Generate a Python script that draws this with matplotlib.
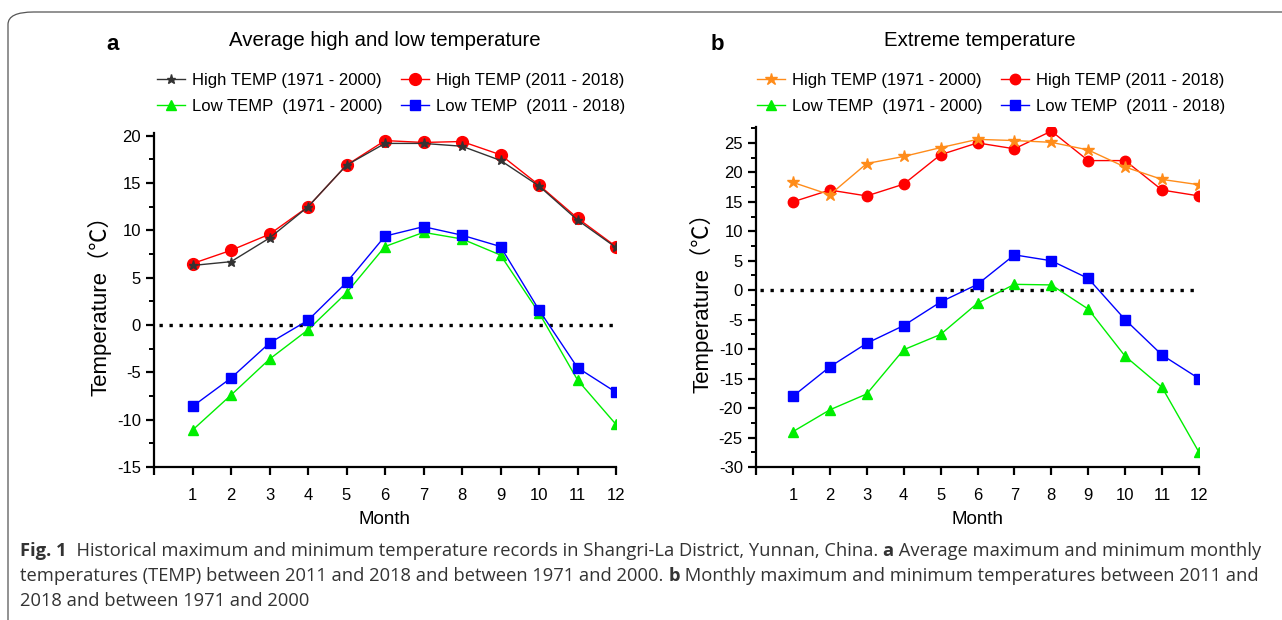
import matplotlib
matplotlib.use("Agg")
import matplotlib.pyplot as plt
from matplotlib.patches import FancyBboxPatch
from matplotlib.ticker import MultipleLocator

months = list(range(1, 13))

# a: average high / low temperature
avg_high_old = [6.3, 6.7, 9.2, 12.5, 16.9, 19.2, 19.2, 18.9, 17.4, 14.7, 11.1, 8.2]
avg_high_new = [6.5, 7.9, 9.6, 12.5, 16.9, 19.5, 19.3, 19.4, 18.0, 14.8, 11.3, 8.3]
avg_low_old = [-11.1, -7.4, -3.6, -0.5, 3.4, 8.3, 9.8, 9.1, 7.4, 1.3, -5.8, -10.5]
avg_low_new = [-8.6, -5.6, -1.9, 0.5, 4.5, 9.4, 10.4, 9.5, 8.3, 1.6, -4.5, -7.1]

# b: extreme temperature
ext_high_old = [18.3, 16.2, 21.5, 22.7, 24.2, 25.6, 25.4, 25.1, 23.8, 20.9, 18.8, 17.9]
ext_high_new = [15, 17, 16, 18, 23, 25, 24, 27, 22, 22, 17, 16]
ext_low_old = [-24.0, -20.3, -17.6, -10.1, -7.5, -2.2, 1.0, 0.9, -3.2, -11.2, -16.5, -27.5]
ext_low_new = [-18, -13, -9, -6, -2, 1, 6, 5, 2, -5, -11, -15]

lbl_high_old = "High TEMP (1971 - 2000)"
lbl_high_new = "High TEMP (2011 - 2018)"
lbl_low_old = "Low TEMP  (1971 - 2000)"
lbl_low_new = "Low TEMP  (2011 - 2018)"

plt.rcParams['font.family'] = ['Liberation Sans', 'DejaVu Sans']
plt.rcParams['axes.unicode_minus'] = False

W, H = 1282, 620
fig = plt.figure(figsize=(W / 100, H / 100), dpi=100)

# rounded frame that runs off the right and bottom edges
frame = FancyBboxPatch((8 / W, -0.2), 1.2, 0.2 + (H - 12) / H,
                       boxstyle="round,pad=0,rounding_size=0.02",
                       transform=fig.transFigure, fill=False,
                       edgecolor="#555555", linewidth=0.9, clip_on=False)
fig.patches.append(frame)


def style_axes(ax, ylim):
    ax.set_xlim(0, 12)
    ax.set_ylim(*ylim)
    for s in ["top", "right"]:
        ax.spines[s].set_visible(False)
    for s in ["left", "bottom"]:
        ax.spines[s].set_linewidth(1.6)
        ax.spines[s].set_color("black")
    ax.set_xticks(range(0, 13))
    ax.set_xticklabels([""] + [str(m) for m in months])
    ax.yaxis.set_major_locator(MultipleLocator(5))
    ax.yaxis.set_minor_locator(MultipleLocator(2.5))
    ax.tick_params(axis="both", which="major", direction="out", length=6,
                   width=1.6, labelsize=12, colors="black")
    ax.tick_params(axis="x", pad=9)
    ax.tick_params(axis="y", which="minor", direction="out", length=3.5, width=1.4)
    ax.set_xlabel("Month", fontsize=13.5, labelpad=6)
    ax.set_ylabel("Temperature（℃）", fontsize=16,
                  family=["Liberation Sans", "Noto Sans CJK SC", "DejaVu Sans"],
                  labelpad=4)
    ax.axhline(0, xmin=0.01, xmax=1, color="black", linestyle=(0, (1, 2)),
               linewidth=2.4, zorder=1)


# panel a
ax1 = fig.add_axes([154 / W, (H - 467) / H, 462 / W, 334 / H])
ax1.plot(months, avg_high_old, color="#333333", marker="*", markersize=6.5,
         linewidth=1, label=lbl_high_old, zorder=4)
ax1.plot(months, avg_low_old, color="#00ee00", marker="^", markersize=6.5,
         linewidth=1, label=lbl_low_old, zorder=3)
ax1.plot(months, avg_high_new, color="#ff0000", marker="o", markersize=8.5,
         linewidth=1, label=lbl_high_new, zorder=3)
ax1.plot(months, avg_low_new, color="#0000ff", marker="s", markersize=7.5,
         linewidth=1, label=lbl_low_new, zorder=4)
style_axes(ax1, (-15, 20.3))

# panel b
ax2 = fig.add_axes([756 / W, (H - 467) / H, 443 / W, 340 / H])
ax2.plot(months, ext_high_old, color="#ff8c1a", marker="*", markersize=9,
         linewidth=1, label=lbl_high_old, zorder=4)
ax2.plot(months, ext_low_old, color="#00ee00", marker="^", markersize=7.5,
         linewidth=1, label=lbl_low_old, zorder=3)
ax2.plot(months, ext_high_new, color="#ff0000", marker="o", markersize=7.5,
         linewidth=1, label=lbl_high_new, zorder=3)
ax2.plot(months, ext_low_new, color="#0000ff", marker="s", markersize=6.5,
         linewidth=1, label=lbl_low_new, zorder=4)
style_axes(ax2, (-30, 27.7))

for ax, x0 in [(ax1, 150), (ax2, 750)]:
    ax.legend(loc="upper left", bbox_to_anchor=(x0 / W, 1 - 66 / H),
              bbox_transform=fig.transFigure, ncol=2, frameon=False,
              fontsize=12, handlelength=1.7, handletextpad=0.4,
              columnspacing=1.1, labelspacing=0.7, borderaxespad=0)

fig.text(385 / W, 1 - 40 / H, "Average high and low temperature", fontsize=14.7,
         ha="center", va="center")
fig.text(980 / W, 1 - 40 / H, "Extreme temperature", fontsize=14.7,
         ha="center", va="center")
fig.text(113 / W, 1 - 45 / H, "a", fontsize=16, fontweight="bold",
         ha="center", va="center")
fig.text(717 / W, 1 - 45 / H, "b", fontsize=16, fontweight="bold",
         ha="center", va="center")

# caption, written piece by piece so the bold parts sit inline
caption = [
    [("Fig. 1", True), ("  Historical maximum and minimum temperature records in Shangri-La District, Yunnan, China. ", False),
     ("a", True), (" Average maximum and minimum monthly", False)],
    [("temperatures (TEMP) between 2011 and 2018 and between 1971 and 2000. ", False), ("b", True),
     (" Monthly maximum and minimum temperatures between 2011 and", False)],
    [("2018 and between 1971 and 2000", False)],
]
renderer = fig.canvas.get_renderer()
cap_y = [551, 576, 601]
for line, yp in zip(caption, cap_y):
    x = 20
    for txt, bold in line:
        t = fig.text(x / W, 1 - yp / H, txt, fontsize=13.2, family="Open Sans",
                     fontweight="bold" if bold else "normal", color="#333333",
                     ha="left", va="center")
        x += t.get_window_extent(renderer).width

fig.savefig("out.png", dpi=100)
